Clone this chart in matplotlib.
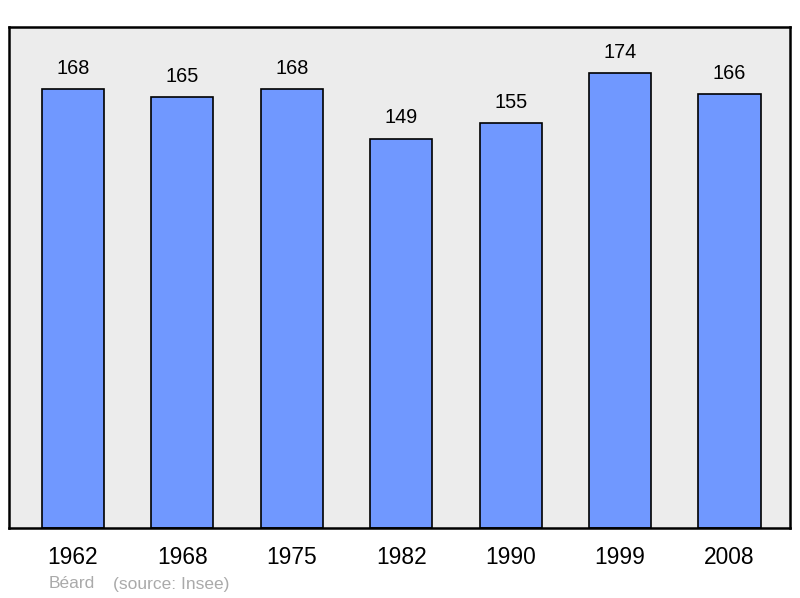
import matplotlib
matplotlib.use("Agg")
import matplotlib.pyplot as plt

years = ["1962", "1968", "1975", "1982", "1990", "1999", "2008"]
population = [168, 165, 168, 149, 155, 174, 166]

plt.rcParams['font.family'] = ['Liberation Sans', 'DejaVu Sans']

fig = plt.figure(figsize=(8, 5.98), dpi=100)
ax = fig.add_axes([9/800, 70/598, 781/800, 501/598])
ax.set_facecolor('#ececec')

x = list(range(len(years)))
bars = ax.bar(x, population, width=0.567, color='#7098ff', edgecolor='black', linewidth=1.2, zorder=2)
for xi, v in zip(x, population):
    ax.annotate(str(v), (xi, v), xytext=(0, 8), textcoords='offset points',
                ha='center', va='bottom', fontsize=14.3, color='black')

ax.set_xlim(-0.585, 6.553)
ax.set_ylim(0, 191.7)
ax.set_yticks([])
ax.set_xticks(x)
ax.set_xticklabels(years, fontsize=16.4)
ax.tick_params(axis='x', length=0, pad=13)
for s in ax.spines.values():
    s.set_linewidth(1.8)
    s.set_color('black')

fig.text(49/800, 1 - 584/598, "Béard", fontsize=12.5, color='#aaaaaa', va='center', ha='left')
fig.text(113/800, 1 - 584/598, "(source: Insee)", fontsize=12.5, color='#aaaaaa', va='center', ha='left')

fig.savefig("out.png", dpi=100)
